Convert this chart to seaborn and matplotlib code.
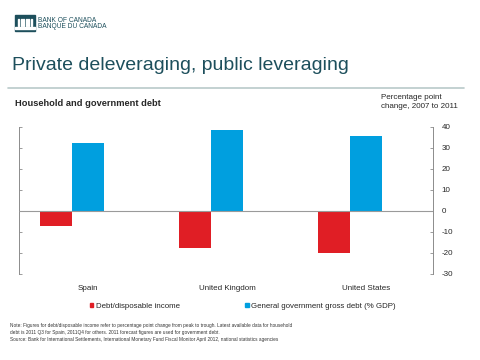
import matplotlib.pyplot as plt
import matplotlib.patches as mpatches
import numpy as np
import pandas as pd
import seaborn as sns

# data
countries = ["Spain", "United Kingdom", "United States"]
household = [-7.3, -17.6, -20.3]
government = [32.1, 38.4, 35.6]
series_names = ["Debt/disposable income", "General government gross debt (% GDP)"]
y_ticks = [-30, -20, -10, 0, 10, 20, 30, 40]

RED = "#e01e25"
BLUE = "#009fdf"
TEAL = "#1d4f5c"
GREY = "#8c8c8c"

df = pd.DataFrame({
    "country": countries * 2,
    "series": [series_names[0]] * 3 + [series_names[1]] * 3,
    "value": household + government,
})

sns.set_style("white")
plt.rcParams["font.family"] = ["Liberation Sans", "DejaVu Sans"]

fig = plt.figure(figsize=(4.8, 3.6), dpi=100)
ax = fig.add_axes([0.0396, 0.2397, 0.8625, 0.4083])

sns.barplot(data=df, x="country", y="value", hue="series", order=countries,
            hue_order=series_names, palette=[RED, BLUE], width=0.46,
            saturation=1, legend=False, linewidth=0, ax=ax)

ax.set_xlim(-0.38, 2.6)
ax.set_ylim(-30, 40)
ax.axhline(0, color="#9a9a9a", lw=0.8, zorder=3)

# category labels sit a bar-width right of the bar pair
ax.set_xticks(np.arange(len(countries)) + 0.117)
ax.set_xticklabels(countries, fontsize=5.8)
ax.tick_params(axis="x", length=0, pad=8)
ax.set_xlabel("")
ax.set_ylabel("")

ax.set_yticks(y_ticks)
ax.set_yticklabels([str(t) for t in y_ticks], fontsize=5.8)
ax.tick_params(axis="y", left=True, right=True, labelleft=False, labelright=True,
               direction="in", length=2.5, width=0.6, color=GREY, pad=6)

for side in ["top", "bottom"]:
    ax.spines[side].set_visible(False)
for side in ["left", "right"]:
    ax.spines[side].set_color(GREY)
    ax.spines[side].set_linewidth(0.7)

# legend
handles = [mpatches.Patch(color=RED), mpatches.Patch(color=BLUE)]
fig.legend(handles, series_names, loc="center", bbox_to_anchor=(0.506, 0.15),
           ncol=2, frameon=False, fontsize=5.7, handlelength=0.45,
           handleheight=0.45, handletextpad=0.35, columnspacing=8.2)

# header: simple logo block
fig.add_artist(mpatches.Rectangle((15 / 480, 1 - 31 / 360), 20 / 480, 16 / 360,
                                  transform=fig.transFigure, color=TEAL))
for k in range(6):
    fig.add_artist(mpatches.Rectangle(((18 + 2.6 * k) / 480, 1 - 26 / 360), 1.1 / 480, 7 / 360,
                                      transform=fig.transFigure, color="white"))
fig.add_artist(mpatches.Rectangle((15 / 480, 1 - 28.5 / 360), 20 / 480, 1.2 / 360,
                                  transform=fig.transFigure, color="white"))
fig.text(38 / 480, 1 - 20.5 / 360, "BANK OF CANADA", fontsize=4.8, color=TEAL, va="center")
fig.text(38 / 480, 1 - 27 / 360, "BANQUE DU CANADA", fontsize=4.8, color=TEAL, va="center")
fig.text(12 / 480, 1 - 66 / 360, "Private deleveraging, public leveraging",
         fontsize=14, color=TEAL, va="center")
fig.add_artist(plt.Line2D([8 / 480, 464 / 480], [1 - 88 / 360] * 2,
                          transform=fig.transFigure, color="#b9c9c9", lw=1.2))

fig.text(15 / 480, 1 - 103 / 360, "Household and government debt",
         fontsize=6.7, fontweight="bold", va="center")
fig.text(381 / 480, 1 - 102 / 360, "Percentage point\nchange, 2007 to 2011",
         fontsize=5.8, va="center", linespacing=1.25)

# footnotes
notes = [
    "Note: Figures for debt/disposable income refer to percentage point change from peak to trough. Latest available data for household",
    "debt is 2011 Q3 for Spain, 2011Q4 for others. 2011 forecast figures are used for government debt.",
    "Source: Bank for International Settlements, International Monetary Fund Fiscal Monitor April 2012, national statistics agencies",
]
for i, line in enumerate(notes):
    fig.text(10 / 480, 1 - (326 + 6.5 * i) / 360, line, fontsize=3.45, va="center",
             color="#333333")

fig.savefig("out.png", dpi=100)
